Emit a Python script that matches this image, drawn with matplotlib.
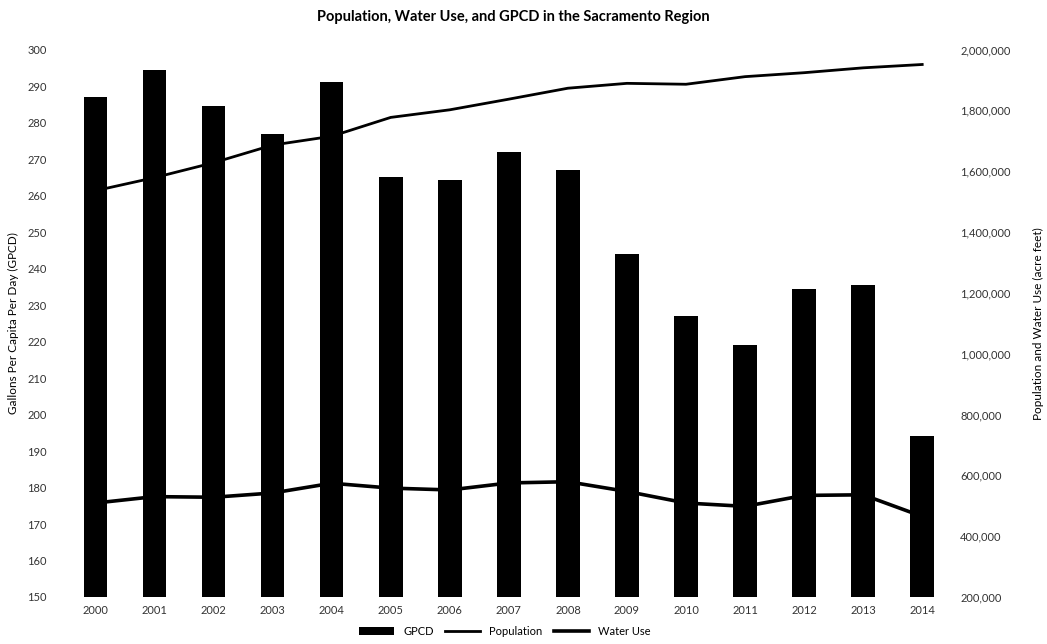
import numpy as np
import matplotlib
matplotlib.use("Agg")
from matplotlib import pyplot as plt
from matplotlib.ticker import FuncFormatter

years = ["2000", "2001", "2002", "2003", "2004", "2005", "2006", "2007",
         "2008", "2009", "2010", "2011", "2012", "2013", "2014"]
gpcd = [287, 294.5, 284.5, 277, 291, 265, 264.3, 272, 267, 244, 227, 219, 234.5, 235.5, 194]
population = [1536000, 1579000, 1628000, 1686000, 1715000, 1777000, 1802000, 1837000,
              1873000, 1889000, 1886000, 1911000, 1924000, 1940000, 1951000]
water_use = [509000, 530000, 528000, 542000, 574000, 558000, 552000, 575000,
             579000, 547000, 509000, 498000, 534000, 536000, 465000]

plt.rcParams["font.family"] = ["Lato", "DejaVu Sans"]

fig = plt.figure(figsize = (10.47, 6.44), dpi = 100)
ax = fig.add_axes([0.063, 0.073, 0.846, 0.85])
ax2 = ax.twinx()

x = np.arange(len(years))
bars = ax.bar(x, gpcd, width = 0.4, color = "black", label = "GPCD", zorder = 1)
ax.set_ylim(150, 300)
ax.set_yticks(np.arange(150, 301, 10))
ax.set_xlim(-0.5, len(years) - 0.5)
ax.set_xticks(x)
ax.set_xticklabels(years)

l1, = ax2.plot(x, population, color = "black", lw = 2.0, label = "Population", zorder = 3)
l2, = ax2.plot(x, water_use, color = "black", lw = 2.6, label = "Water Use", zorder = 3)
ax2.set_ylim(200000, 2000000)
ax2.set_yticks(np.arange(200000, 2000001, 200000))
ax2.yaxis.set_major_formatter(FuncFormatter(lambda v, p: f"{int(v):,}"))

for a in (ax, ax2):
    for s in a.spines.values():
        s.set_visible(False)
    a.tick_params(length = 0, labelsize = 8, colors = "#333333")
ax.tick_params(axis = "y", pad = 14)
ax.tick_params(axis = "x", pad = 6)
ax2.tick_params(axis = "y", pad = 6)

ax.set_ylabel("Gallons Per Capita Per Day (GPCD)", fontsize = 8.5, labelpad = 6)
ax2.set_ylabel("Population and Water Use (acre feet)", fontsize = 8.5, labelpad = 16)

fig.suptitle("Population, Water Use, and GPCD in the Sacramento Region",
             x = 0.49, y = 0.985, fontsize = 10.5, fontweight = "bold")

fig.legend(handles = [bars, l1, l2], loc = "lower center", bbox_to_anchor = (0.482, -0.005),
           ncol = 3, frameon = False, fontsize = 8, handlelength = 3.2, columnspacing = 1.0)

fig.savefig("out.png", dpi = 100)
